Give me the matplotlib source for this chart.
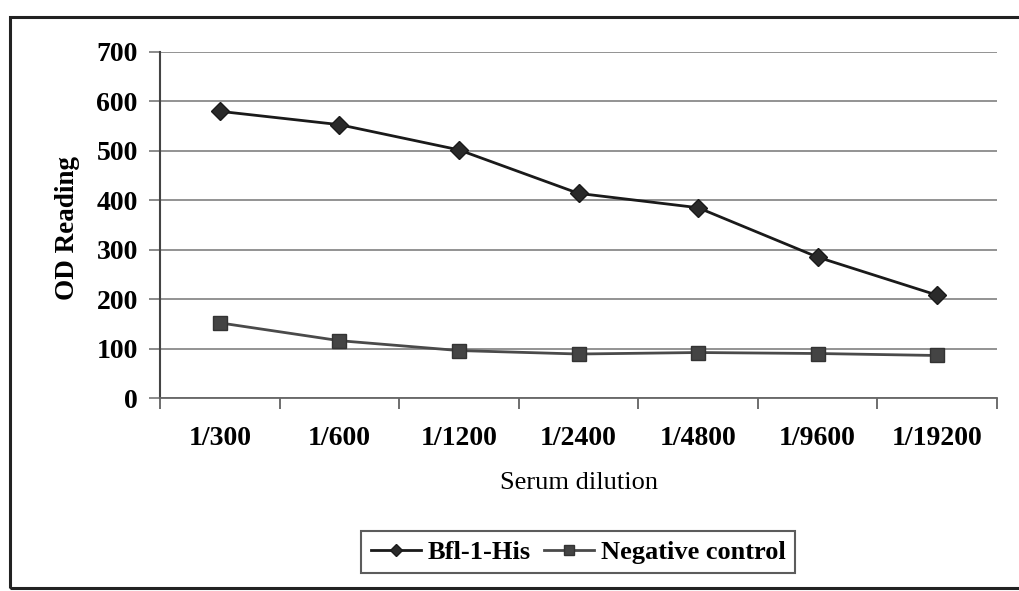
import matplotlib
matplotlib.use("Agg")
import matplotlib.pyplot as plt
from matplotlib.patches import Rectangle
import numpy as np

# Serum dilution series and OD readings
dilutions = ["1/300", "1/600", "1/1200", "1/2400", "1/4800", "1/9600", "1/19200"]
bfl1_his = [580, 553, 502, 414, 385, 285, 208]
negative_control = [152, 116, 96, 89, 92, 90, 86]
y_ticks = [0, 100, 200, 300, 400, 500, 600, 700]

plt.rcParams["font.family"] = ["Liberation Serif", "DejaVu Serif"]

W, H = 1019, 591
fig = plt.figure(figsize=(W / 100, H / 100), dpi=100)
fig.patch.set_facecolor("white")

# Outer chart border (left, top, bottom edges visible)
fig.patches.append(Rectangle((10 / W, 1 - 588 / H), 1.2, (588 - 17) / H,
                             transform=fig.transFigure, fill=False,
                             edgecolor="#222222", linewidth=2.2))

ax = fig.add_axes([160 / W, 1 - 398 / H, (997 - 160) / W, (398 - 52) / H])
x = np.arange(len(dilutions))

ax.plot(x, bfl1_his, color="#1a1a1a", linewidth=2.0, marker="D",
        markersize=9, markerfacecolor="#2a2a2a", markeredgecolor="#1a1a1a",
        label="Bfl-1-His", zorder=3)
ax.plot(x, negative_control, color="#4a4a4a", linewidth=2.0, marker="s",
        markersize=10, markerfacecolor="#444444", markeredgecolor="#333333",
        label="Negative control", zorder=3)

ax.set_xlim(-0.5, len(dilutions) - 0.5)
ax.set_ylim(0, 700)

ax.set_yticks(y_ticks)
ax.set_yticklabels([str(v) for v in y_ticks], fontsize=20, fontweight="bold")
ax.tick_params(axis="y", length=8, width=1.2, color="#777777", pad=8)
ax.yaxis.grid(True, color="#8a8a8a", linewidth=1.3)
ax.set_axisbelow(True)

ax.set_xticks(x)
ax.set_xticklabels(dilutions, fontsize=20, fontweight="bold")
ax.tick_params(axis="x", which="major", length=0, pad=20)
ax.set_xticks(np.arange(-0.5, len(dilutions)), minor=True)
ax.tick_params(axis="x", which="minor", length=8, width=1.2,
               color="#555555", direction="out")

for side in ("top", "right"):
    ax.spines[side].set_visible(False)
ax.spines["left"].set_color("#444444")
ax.spines["left"].set_linewidth(1.5)
ax.spines["bottom"].set_color("#666666")
ax.spines["bottom"].set_linewidth(1.3)

fig.text(68 / W, 1 - 228 / H, "OD Reading", rotation=90, fontsize=19.5,
         fontweight="bold", ha="center", va="center")
fig.text(579 / W, 1 - 483 / H, "Serum dilution", fontsize=19,
         ha="center", va="center")

leg = fig.legend(loc="center", bbox_to_anchor=(578 / W, 1 - 552 / H),
                 ncol=2, frameon=True, fancybox=False,
                 prop={"weight": "bold", "size": 19}, handlelength=1.9,
                 columnspacing=0.5, handletextpad=0.25, borderpad=0.35,
                 markerscale=0.7)
leg.get_frame().set_edgecolor("#333333")
leg.get_frame().set_linewidth(1.5)

fig.savefig("out.png", dpi=100, facecolor="white")
